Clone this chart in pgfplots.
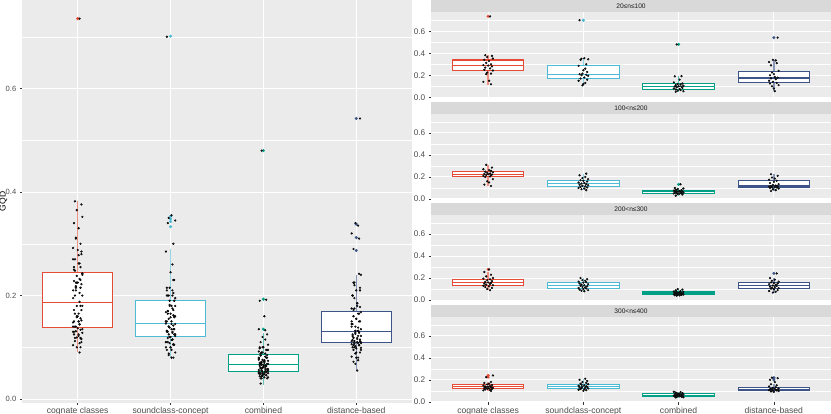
\documentclass[border=0pt]{standalone}
\usepackage{fontspec}
\setmainfont{Liberation Sans}
\usepackage{pgfplots}
\pgfplotsset{compat=1.18}
\usepgfplotslibrary{statistics}
\usepackage{pgfplotstable}
\definecolor{ggbg}{HTML}{EBEBEB}
\definecolor{ggstrip}{HTML}{D9D9D9}
\definecolor{gg30}{HTML}{4D4D4D}
\definecolor{gg20}{HTML}{333333}
\definecolor{gg10}{HTML}{1A1A1A}
\definecolor{cA}{HTML}{E64B35}
\definecolor{cB}{HTML}{4DBBD5}
\definecolor{cC}{HTML}{00A087}
\definecolor{cD}{HTML}{3C5488}
\newcommand{\fsize}[1]{\fontsize{#1}{#1}\selectfont}

% facet 1: 20<=n<=100
\pgfplotstableread{
ja jb c1 c2 c3 c4
0.02 -0.04 0.735 0.700 0.480 0.542
-0.03 0.01 0.382 0.355 0.192 0.340
0.04 -0.02 0.376 0.350 0.190 0.335
-0.01 0.05 0.365 0.345 0.160 0.320
0.05 -0.03 0.352 0.340 0.135 0.310
-0.04 0.03 0.340 0.300 0.125 0.290
0.01 -0.05 0.330 0.285 0.120 0.240
-0.02 0.02 0.312 0.260 0.115 0.225
0.03 0.00 0.300 0.245 0.110 0.210
-0.05 0.04 0.292 0.230 0.105 0.200
0.00 -0.01 0.288 0.215 0.100 0.185
0.04 -0.04 0.280 0.210 0.098 0.178
-0.03 0.03 0.270 0.205 0.095 0.172
0.02 -0.02 0.262 0.200 0.090 0.165
-0.04 0.05 0.250 0.195 0.085 0.150
0.05 0.01 0.243 0.180 0.080 0.140
-0.01 -0.03 0.225 0.170 0.075 0.130
0.03 0.04 0.215 0.160 0.070 0.125
-0.02 -0.05 0.210 0.150 0.065 0.110
0.01 0.02 0.150 0.130 0.060 0.100
-0.05 0.00 0.140 0.120 0.055 0.080
0.03 -0.01 0.118 0.108 0.050 0.055
}\tabA
% facet 2: 100<n<=200
\pgfplotstableread{
ja jb c1 c2 c3 c4
-0.02 0.03 0.310 0.230 0.133 0.225
0.04 -0.04 0.285 0.215 0.100 0.210
-0.05 0.02 0.270 0.200 0.095 0.195
0.01 -0.01 0.262 0.190 0.090 0.185
0.03 0.05 0.255 0.180 0.085 0.175
-0.03 -0.03 0.248 0.170 0.080 0.165
0.05 0.00 0.242 0.165 0.076 0.155
-0.01 0.04 0.238 0.158 0.072 0.145
0.02 -0.05 0.232 0.150 0.070 0.135
-0.04 0.01 0.228 0.145 0.068 0.128
0.00 -0.02 0.225 0.140 0.066 0.122
0.04 0.03 0.222 0.135 0.064 0.118
-0.02 -0.04 0.218 0.130 0.062 0.115
0.03 0.05 0.215 0.125 0.060 0.112
-0.05 -0.01 0.210 0.120 0.058 0.110
0.02 0.02 0.205 0.115 0.055 0.107
-0.03 -0.03 0.200 0.110 0.052 0.104
0.05 0.04 0.180 0.105 0.050 0.100
-0.01 -0.05 0.160 0.100 0.048 0.095
0.01 0.01 0.150 0.095 0.045 0.088
-0.04 -0.02 0.130 0.088 0.040 0.080
0.03 0.03 0.118 0.080 0.030 0.072
}\tabB
% facet 3: 200<n<=300
\pgfplotstableread{
ja jb c1 c2 c3 c4
0.01 -0.03 0.278 0.200 0.100 0.242
-0.04 0.04 0.255 0.190 0.095 0.200
0.03 -0.01 0.230 0.182 0.088 0.185
-0.02 0.02 0.215 0.175 0.082 0.175
0.05 -0.05 0.200 0.168 0.078 0.168
-0.05 0.03 0.195 0.162 0.074 0.160
0.02 0.00 0.188 0.158 0.072 0.155
-0.01 -0.04 0.180 0.150 0.070 0.150
0.04 0.05 0.172 0.145 0.067 0.145
-0.03 -0.02 0.165 0.140 0.064 0.138
0.00 0.01 0.160 0.135 0.062 0.132
0.03 -0.03 0.156 0.130 0.060 0.128
-0.04 0.04 0.150 0.125 0.058 0.122
0.02 -0.01 0.145 0.120 0.056 0.118
-0.02 0.02 0.140 0.115 0.054 0.112
0.05 -0.05 0.135 0.110 0.052 0.108
-0.05 0.03 0.130 0.105 0.050 0.104
0.01 0.00 0.125 0.100 0.048 0.098
-0.03 -0.04 0.118 0.095 0.046 0.090
0.04 0.05 0.110 0.090 0.044 0.082
-0.01 -0.02 0.100 0.085 0.042 0.075
0.02 0.01 0.090 0.080 0.040 0.068
}\tabC
% facet 4: 300<n<=400
\pgfplotstableread{
ja jb c1 c2 c3 c4
0.05 0.02 0.240 0.210 0.092 0.220
-0.02 -0.04 0.225 0.200 0.088 0.215
0.03 0.04 0.180 0.190 0.084 0.200
-0.04 -0.01 0.172 0.180 0.080 0.180
0.01 0.03 0.165 0.172 0.076 0.160
-0.01 -0.03 0.158 0.165 0.073 0.150
0.04 0.05 0.152 0.160 0.070 0.140
-0.05 -0.02 0.148 0.155 0.068 0.132
0.02 0.01 0.144 0.150 0.066 0.126
-0.03 -0.05 0.140 0.146 0.064 0.122
0.00 0.03 0.137 0.142 0.062 0.119
0.03 -0.01 0.134 0.138 0.060 0.116
-0.02 0.04 0.131 0.135 0.058 0.114
0.05 -0.04 0.128 0.132 0.056 0.112
-0.04 0.02 0.125 0.128 0.054 0.110
0.01 -0.02 0.122 0.125 0.052 0.108
-0.01 0.05 0.119 0.122 0.050 0.106
0.04 -0.03 0.116 0.118 0.048 0.104
-0.03 0.01 0.112 0.114 0.046 0.102
0.02 -0.05 0.108 0.110 0.044 0.099
-0.05 0.03 0.104 0.106 0.042 0.095
0.03 0.00 0.100 0.100 0.040 0.090
}\tabD

\pgfplotsset{
  ggbase/.style={
    scale only axis,
    axis background/.style={fill=ggbg},
    axis line style={draw=none},
    xmin=0.4, xmax=4.6,
    xtick={1,2,3,4},
    ytick={0,0.2,0.4,0.6},
    minor ytick={0.1,0.3,0.5,0.7},
    yticklabels={0.0,0.2,0.4,0.6},
    xticklabels={cognate classes,soundclass-concept,combined,distance-based},
    grid=both,
    major grid style={white, line width=0.9pt},
    minor grid style={white, line width=0.45pt},
    tick align=outside,
    xtick pos=bottom, ytick pos=left,
    major tick length=2.2pt, minor tick length=0pt,
    tick style={gg20, line width=0.5pt},
    x tick label style={font=\fsize{8.6}, text=gg30, yshift=1pt},
    y tick label style={font=\fsize{7.6}, text=gg30},
    boxplot/draw direction=y,
    boxplot/box extend=0.75,
    boxplot/whisker extend=0,
    clip=false,
  },
}
% pos, colour, lower whisker, lower quartile, median, upper quartile, upper whisker, outliers
\newcommand{\gbox}[8]{%
  \addplot[boxplot prepared={draw position=#1, lower whisker=#3, lower quartile=#4,
      median=#5, upper quartile=#6, upper whisker=#7},
    boxplot/every whisker/.style={draw=#2!60, line width=1.4pt},
    boxplot/every box/.style={draw=#2, fill=white, line width=1.1pt},
    boxplot/every median/.style={draw=#2, line width=1.1pt},
    draw=#2, fill=white, line width=1.1pt, solid,
    mark=*, mark size=0.9pt, mark options={fill=#2, draw=none}] coordinates {#8};}
\newcommand{\gpts}[3]{%
  \addplot[only marks, mark=*, mark size=0.9pt, mark options={draw=none, fill=black!80}]
    table[x expr=#1, y=#3] {#2};}
\newcommand{\allpts}[1]{%
  \gpts{1+\thisrow{ja}}{#1}{c1}
  \gpts{2+\thisrow{jb}}{#1}{c2}
  \gpts{3-\thisrow{ja}}{#1}{c3}
  \gpts{4-\thisrow{jb}}{#1}{c4}}
\newcommand{\strip}[1]{%
  \fill[ggstrip] (rel axis cs:0,1) rectangle (rel axis cs:1,1.134);
  \node[font=\fsize{6.6}, text=gg10] at (rel axis cs:0.5,1.067) {#1};}

\begin{document}
\begin{tikzpicture}
\path[use as bounding box] (0,0) rectangle (831pt,414pt);

% ---------------- left panel ----------------
\begin{axis}[ggbase, at={(22pt,11.3pt)}, anchor=south west,
  width=390pt, height=402.7pt, ymin=-0.007, ymax=0.771,
  ylabel={GQD},
  ylabel style={font=\fsize{8.6}, text=black, at={(axis description cs:-0.0475,0.5)}, anchor=center}]
  \gbox{1}{cA}{0.091}{0.139}{0.186}{0.245}{0.382}{(0,0.735)}
  \gbox{2}{cB}{0.082}{0.121}{0.146}{0.191}{0.289}{(0,0.701) (0,0.353) (0,0.348) (0,0.343) (0,0.333)}
  \gbox{3}{cC}{0.028}{0.054}{0.066}{0.086}{0.127}{(0,0.48) (0,0.193) (0,0.135)}
  \gbox{4}{cD}{0.057}{0.110}{0.130}{0.169}{0.239}{(0,0.542) (0,0.338) (0,0.312) (0,0.287)}
  \allpts{\tabA}
  \allpts{\tabB}
  \allpts{\tabC}
  \allpts{\tabD}
\end{axis}

% ---------------- facet 1 ----------------
\begin{axis}[ggbase, at={(431pt,316.2pt)}, anchor=south west,
  width=400pt, height=85.8pt, ymin=-0.005, ymax=0.775,
  xticklabels={}, xtick style={draw=none}, y tick label style={font=\fsize{8.2}}]
  \gbox{1}{cA}{0.112}{0.242}{0.291}{0.339}{0.382}{(0,0.735)}
  \gbox{2}{cB}{0.106}{0.169}{0.209}{0.291}{0.355}{(0,0.700)}
  \gbox{3}{cC}{0.050}{0.069}{0.097}{0.124}{0.192}{(0,0.480)}
  \gbox{4}{cD}{0.055}{0.133}{0.175}{0.233}{0.340}{(0,0.542)}
  \allpts{\tabA}
  \strip{20≤n≤100}
\end{axis}

% ---------------- facet 2 ----------------
\begin{axis}[ggbase, at={(431pt,214.5pt)}, anchor=south west,
  width=400pt, height=85.8pt, ymin=-0.005, ymax=0.775,
  xticklabels={}, xtick style={draw=none}, y tick label style={font=\fsize{8.2}}]
  \gbox{1}{cA}{0.118}{0.202}{0.226}{0.247}{0.310}{}
  \gbox{2}{cB}{0.080}{0.112}{0.139}{0.169}{0.230}{}
  \gbox{3}{cC}{0.030}{0.051}{0.066}{0.078}{0.100}{(0,0.133)}
  \gbox{4}{cD}{0.072}{0.106}{0.118}{0.169}{0.225}{}
  \allpts{\tabB}
  \strip{100<n≤200}
\end{axis}

% ---------------- facet 3 ----------------
\begin{axis}[ggbase, at={(431pt,113.4pt)}, anchor=south west,
  width=400pt, height=85.8pt, ymin=-0.005, ymax=0.775,
  xticklabels={}, xtick style={draw=none}, y tick label style={font=\fsize{8.2}}]
  \gbox{1}{cA}{0.090}{0.133}{0.158}{0.188}{0.255}{(0,0.278)}
  \gbox{2}{cB}{0.080}{0.106}{0.133}{0.161}{0.200}{}
  \gbox{3}{cC}{0.040}{0.048}{0.061}{0.073}{0.100}{}
  \gbox{4}{cD}{0.068}{0.106}{0.130}{0.158}{0.200}{(0,0.242)}
  \allpts{\tabC}
  \strip{200<n≤300}
\end{axis}

% ---------------- facet 4 ----------------
\begin{axis}[ggbase, at={(431pt,11.6pt)}, anchor=south west,
  width=400pt, height=85.8pt, ymin=-0.005, ymax=0.775,
  y tick label style={font=\fsize{8.2}}]
  \gbox{1}{cA}{0.100}{0.118}{0.136}{0.157}{0.180}{(0,0.225) (0,0.240)}
  \gbox{2}{cB}{0.100}{0.118}{0.139}{0.160}{0.210}{}
  \gbox{3}{cC}{0.040}{0.048}{0.060}{0.075}{0.092}{}
  \gbox{4}{cD}{0.090}{0.103}{0.115}{0.130}{0.160}{(0,0.200) (0,0.215) (0,0.220)}
  \allpts{\tabD}
  \strip{300<n≤400}
\end{axis}
\end{tikzpicture}
\end{document}
